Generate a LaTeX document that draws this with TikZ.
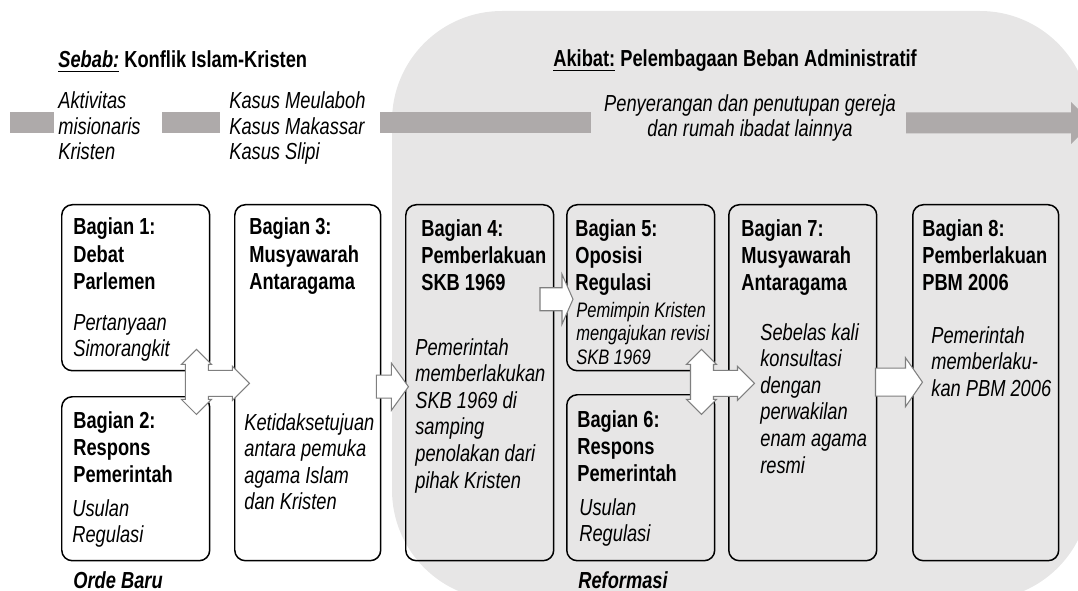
\documentclass[tikz,border=0pt]{standalone}
\usepackage{fontspec}
\usepackage{graphicx}
\setmainfont{Liberation Sans}
\usetikzlibrary{calc}
\definecolor{bggrey}{RGB}{231,230,230}
\definecolor{bargrey}{RGB}{174,170,170}
\definecolor{arrowgrey}{RGB}{127,127,127}
% the text of the diagram is drawn a bit taller than wide
\newcommand{\stretched}[2][l]{\scalebox{1}[1.27]{\begin{tabular}[t]{@{}#1@{}}#2\end{tabular}}}
\tikzset{
  box/.style={draw,line width=0.85pt,rounded corners=6pt,anchor=north west,minimum width=2.96cm,inner sep=0pt},
  head/.style={anchor=base west,inner sep=0pt,font=\fontsize{10.4}{12.3}\selectfont\bfseries},
  desc/.style={anchor=base west,inner sep=0pt,font=\fontsize{10.4}{11.95}\selectfont\itshape},
  smalldesc/.style={desc,font=\fontsize{9.4}{10.75}\selectfont\itshape},
  tline/.style={anchor=base west,inner sep=0pt,font=\fontsize{10.4}{11.4}\selectfont\itshape},
  title/.style={anchor=base west,inner sep=0pt,font=\fontsize{10.4}{12}\selectfont\bfseries},
  era/.style={anchor=base west,inner sep=0pt,font=\fontsize{10.4}{12}\selectfont\bfseries\itshape},
  blockarrow/.style={fill=white,draw=arrowgrey,line width=0.6pt},
  pics/crossarrow/.style={code={
    \draw[blockarrow] (0,0) -- (15,15) -- (12,15) -- (12,21) -- (36,21) -- (36,17) -- (53,34)
      -- (36,51) -- (36,47) -- (12,47) -- (12,50) -- (15,50) -- (0,65) -- (-15,50) -- (-11,50)
      -- (-11,15) -- (-15,15) -- cycle;}}
}
\begin{document}
\begin{tikzpicture}[x=0.02cm,y=-0.02cm]
\useasboundingbox (0,0) rectangle (1078,591);
\clip (0,0) rectangle (1078,591);
% reformasi background
\fill[bggrey,rounded corners=2.2cm] (392,11) rectangle (1090,600);
% time line
\fill[bargrey] (10,112.5) rectangle (54,133.5);
\fill[bargrey] (162,112.5) rectangle (220,133.5);
\fill[bargrey] (380,112.5) rectangle (591,133.5);
\fill[bargrey] (906,112.5) -- (1071,112.5) -- (1071,102) -- (1092,123) -- (1071,144) -- (1071,133.5) -- (906,133.5) -- cycle;

\node[title] (sebab) at (58,68) {\stretched{\underline{\textit{Sebab:}} Konflik Islam-Kristen}};
\node[title] (akibat) at (553,67) {\stretched{\underline{Akibat:} Pelembagaan Beban Administratif}};
\node[tline] (aktiv) at (58,109) {\stretched{Aktivitas\\misionaris\\Kristen}};
\node[tline] (kasus) at (229,109) {\stretched{Kasus Meulaboh\\Kasus Makassar\\Kasus Slipi}};
\node[tline,font=\fontsize{10.4}{10.95}\selectfont\itshape,anchor=base] (serang) at (750,112)
  {\stretched[c]{Penyerangan dan penutupan gereja\\dan rumah ibadat lainnya}};

% parts
\node[box,minimum height=3.32cm] (b1) at (61,204) {};
\node[box,minimum height=3.28cm] (b2) at (61,396) {};
\node[box,minimum height=7.12cm,minimum width=2.92cm] (b3) at (234,204) {};
\node[box,minimum height=7.12cm] (b4) at (405,204) {};
\node[box,minimum height=3.32cm] (b5) at (566,204) {};
\node[box,minimum height=3.32cm] (b6) at (566,394) {};
\node[box,minimum height=7.12cm] (b7) at (728,204) {};
\node[box,minimum height=7.12cm,minimum width=2.92cm] (b8) at (912,204) {};

\node[head] (h1) at ($(b1.north west)+(12,31)$) {\stretched{Bagian 1:\\Debat\\Parlemen}};
\node[desc] (d1) at ($(b1.north west)+(12,126)$) {\stretched{Pertanyaan\\Simorangkit}};
\node[head] (h2) at ($(b2.north west)+(12,32)$) {\stretched{Bagian 2:\\Respons\\Pemerintah}};
\node[desc] (d2) at ($(b2.north west)+(11,120)$) {\stretched{Usulan\\Regulasi}};
\node[head] (h3) at ($(b3.north west)+(15,31)$) {\stretched{Bagian 3:\\Musyawarah\\Antaragama}};
\node[desc] (d3) at ($(b3.north west)+(10,226)$) {\stretched{Ketidaksetujuan\\antara pemuka\\agama Islam\\dan Kristen}};
\node[head] (h4) at ($(b4.north west)+(16,32)$) {\stretched{Bagian 4:\\Pemberlakuan\\SKB 1969}};
\node[desc] (d4) at ($(b4.north west)+(10,151)$) {\stretched{Pemerintah\\memberlakukan\\SKB 1969 di\\samping\\penolakan dari\\pihak Kristen}};
\node[head] (h5) at ($(b5.north west)+(9,32)$) {\stretched{Bagian 5:\\Oposisi\\Regulasi}};
\node[smalldesc] (d5) at ($(b5.north west)+(10,113)$) {\stretched{Pemimpin Kristen\\mengajukan revisi\\SKB 1969}};
\node[head] (h6) at ($(b6.north west)+(11,33)$) {\stretched{Bagian 6:\\Respons\\Pemerintah}};
\node[desc] (d6) at ($(b6.north west)+(13,121)$) {\stretched{Usulan\\Regulasi}};
\node[head] (h7) at ($(b7.north west)+(13,32)$) {\stretched{Bagian 7:\\Musyawarah\\Antaragama}};
\node[desc] (d7) at ($(b7.north west)+(32,136)$) {\stretched{Sebelas kali\\konsultasi\\dengan\\perwakilan\\enam agama\\resmi}};
\node[head] (h8) at ($(b8.north west)+(10,32)$) {\stretched{Bagian 8:\\Pemberlakuan\\PBM 2006}};
\node[desc] (d8) at ($(b8.north west)+(19,139)$) {\stretched{Pemerintah\\memberlaku-\\kan PBM 2006}};

\node[era] (orde) at ($(b2.south west)+(12,27)$) {\stretched{Orde Baru}};
\node[era] (reform) at ($(b6.south west)+(12,27)$) {\stretched{Reformasi}};

% arrows
\pic at ($(b1.south east)+(-14,-22)$) {crossarrow};
\pic at ($(b5.south east)+(-14,-22)$) {crossarrow};
\draw[blockarrow] ($(b3.east)+(-5,-7.5)$) -- ++(15,0) -- ++(0,-12) -- ++(17,23.5) -- ++(-17,23.5) -- ++(0,-12) -- ++(-15,0) -- cycle;
\draw[blockarrow] ($(b5.west)+(-26,0)$) -- ++(22,0) -- ++(0,-13.5) -- ++(11,25) -- ++(-11,25) -- ++(0,-13.5) -- ++(-22,0) -- cycle;
\draw[blockarrow] ($(b7.east)+(-2,-14.5)$) -- ++(30,0) -- ++(0,-10.5) -- ++(17,24.5) -- ++(-17,24.5) -- ++(0,-10.5) -- ++(-30,0) -- cycle;
\end{tikzpicture}
\end{document}
